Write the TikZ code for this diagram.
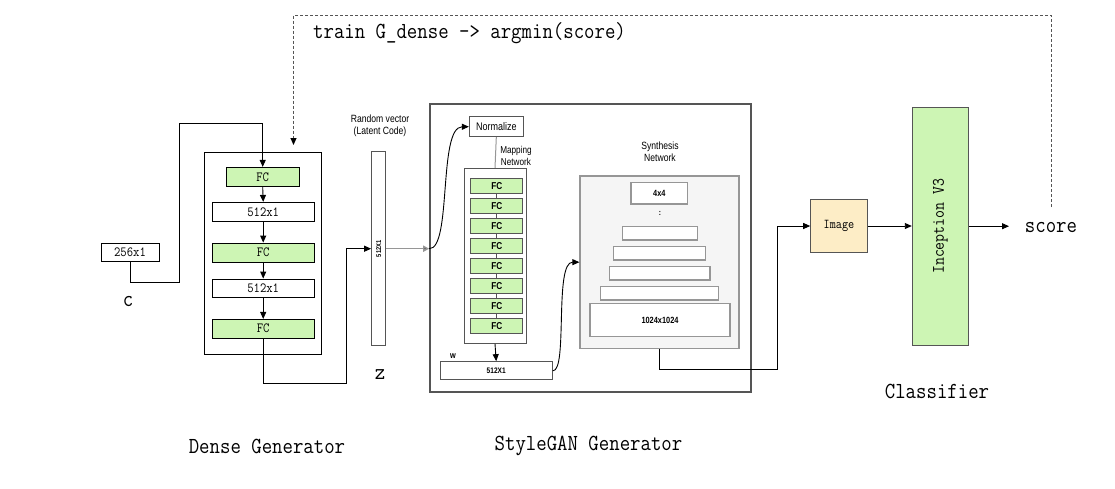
\documentclass[tikz,border=0pt]{standalone}
\usepackage{fontspec}
\newfontfamily\monof[FakeStretch=0.88]{Latin Modern Mono}
\newfontfamily\sansn[FakeStretch=0.82]{Liberation Sans}
\usetikzlibrary{arrows.meta,calc}
\definecolor{fcgreen}{RGB}{205,245,180}
\definecolor{imgfill}{RGB}{253,237,198}
\definecolor{synfill}{RGB}{245,245,245}
\definecolor{dgray}{RGB}{85,85,85}
\definecolor{mgray}{RGB}{150,150,150}
\begin{document}
\begin{tikzpicture}[x=1pt,y=-1pt,
  tip/.style={-{Triangle[length=7pt,width=6pt]}},
  conn/.style={draw=black, line width=0.9pt},
  dbox/.style={draw=black, line width=0.8pt, inner sep=0pt, font=\monof\fontsize{14}{16}\selectfont},
  dfc/.style={dbox, fill=fcgreen},
  mfc/.style={draw=dgray, line width=1pt, fill=fcgreen, inner sep=0pt, minimum width=51.7pt, minimum height=15pt, font=\sansn\bfseries\fontsize{10}{11}\selectfont},
  sbar/.style={draw=mgray, line width=1.2pt, fill=white, inner sep=0pt, font=\sansn\bfseries\fontsize{9}{10}\selectfont},
  big/.style={font=\monof\fontsize{23}{26}\selectfont, inner sep=0pt},
  small/.style={font=\sansn\fontsize{11}{12.5}\selectfont, inner sep=0pt, align=center},
]
\useasboundingbox (0,0) rectangle (1115,488);

% ---- Dense generator ----
\node[dbox, minimum width=58pt, minimum height=18pt] (c256) at (130,252) {256x1};
\node[draw=black, line width=0.8pt, minimum width=117.4pt, minimum height=201.7pt, inner sep=0pt] (dense) at (263,253.2) {};
\node[dfc, minimum width=73.3pt, minimum height=19.4pt] (fc1) at (262.7,177) {FC};
\node[dbox, minimum width=101.7pt, minimum height=19.4pt] (l1) at (263.2,212) {512x1};
\node[dfc, minimum width=101.7pt, minimum height=19pt] (fc2) at (263.2,252.5) {FC};
\node[dbox, minimum width=101.7pt, minimum height=18.7pt] (l2) at (263.2,288.3) {512x1};
\node[dfc, minimum width=101.7pt, minimum height=18.7pt] (fc3) at (263.2,328.7) {FC};

\draw[conn,tip] (c256.south) |- (179,282) |- ([yshift=43pt]fc1.north) -- (fc1.north);
\draw[conn,tip] (fc1.south) -- (l1.north);
\draw[conn,tip] (l1.south) -- (fc2.north);
\draw[conn,tip] (fc2.south) -- (l2.north);
\draw[conn,tip] (l2.south) -- (fc3.north);

% ---- latent vector ----
\node[draw=dgray, line width=1pt, minimum width=14.3pt, minimum height=194pt, inner sep=0pt] (zbar) at (378.8,248.7) {};
\node[font=\sansn\bfseries\fontsize{7}{8}\selectfont, rotate=90, inner sep=0pt] (ztxt) at (zbar.center) {512X1};
\node[small, font=\sansn\fontsize{10.5}{12.5}\selectfont] (rv) at (380,126) {Random vector\\(Latent Code)};
\draw[conn,tip] (fc3.south) |- (346,383) |- (zbar.west);

% ---- StyleGAN ----
\node[draw=dgray, line width=1.6pt, minimum width=321pt, minimum height=288pt, inner sep=0pt] (sg) at (590.5,248) {};
\node[draw=dgray, line width=0.9pt, fill=white, minimum width=54pt, minimum height=20pt, inner sep=0pt, small] (norm) at (496.3,126.7) {Normalize};
\node[draw=dgray, line width=1pt, minimum width=62pt, minimum height=175pt, inner sep=0pt] (map) at (495,255.8) {};
\node[small, font=\sansn\fontsize{10}{11.5}\selectfont] (maptxt) at (516,156) {Mapping\\Network};
\foreach \i in {0,...,7} {
  \node[mfc] (m\i) at (496.8,185.8+20*\i) {FC};
}
\foreach \i/\j in {0/1,1/2,2/3,3/4,4/5,5/6,6/7} {
  \draw[draw=dgray, line width=0.9pt] (m\i.south) -- (m\j.north);
}
\draw[draw=mgray, line width=1pt] (norm.south) -- (map.north);
\node[draw=dgray, line width=1pt, fill=white, minimum width=112.3pt, minimum height=18.3pt, inner sep=0pt, font=\sansn\bfseries\fontsize{8}{9}\selectfont] (wbox) at (496.2,370.8) {512X1};
\node[font=\sansn\bfseries\fontsize{9}{10}\selectfont, inner sep=0pt] (wlab) at (453,356.5) {w};
\draw[conn,tip] (map.south) -- (wbox.north);

\coordinate (zin) at (zbar.east -| sg.west);
\draw[draw=mgray, line width=1.5pt, -{Triangle[length=6pt,width=6pt,fill=black]}] (zbar.east) -- (zin);
\draw[conn,tip] (zin) .. controls (452,249) and (438,127) .. (norm.west);

% synthesis
\node[draw=mgray, line width=1.2pt, fill=synfill, minimum width=159pt, minimum height=172.3pt, inner sep=0pt] (syn) at (659.5,262.2) {};
\node[small, font=\sansn\fontsize{10.5}{12}\selectfont] (syntxt) at (660,151.5) {Synthesis\\Network};
\node[sbar, minimum width=56.7pt, minimum height=21.7pt] (s4) at (659.3,193.2) {4x4};
\node[font=\sansn\bfseries\fontsize{8}{8}\selectfont, inner sep=0pt] (dots) at (660,213) {:};
\node[sbar, minimum width=75pt, minimum height=13.3pt] (b1) at (659.8,233.3) {};
\node[sbar, minimum width=92.4pt, minimum height=13.3pt] (b2) at (659.5,253.3) {};
\node[sbar, minimum width=100.7pt, minimum height=13.3pt] (b3) at (659.7,273.3) {};
\node[sbar, minimum width=117.6pt, minimum height=13.3pt] (b4) at (659.5,293.3) {};
\node[sbar, minimum width=140pt, minimum height=33.4pt] (b5) at (660,320) {1024x1024};
\draw[conn,tip] (wbox.east) .. controls (568,371) and (554,262) .. (syn.west);

% ---- Classifier ----
\node[draw=dgray, line width=1pt, fill=imgfill, minimum width=56.6pt, minimum height=53.4pt, inner sep=0pt, font=\monof\fontsize{13.5}{15}\selectfont] (img) at (839,226) {Image};
\node[draw=dgray, line width=1pt, fill=fcgreen, minimum width=56pt, minimum height=237.7pt, inner sep=0pt] (inc) at (940.3,226.2) {};
\node[font=\monof\fontsize{17.5}{20}\selectfont, rotate=90, inner sep=0pt] (inctxt) at (inc.center) {Inception V3};
\draw[conn,tip] (syn.south) |- (777,369) |- (img.west);
\draw[conn,tip] (img.east) -- (img.east -| inc.west);
\coordinate (sc) at (1009,226.2);
\draw[conn,tip] (inc.east |- sc) -- (sc);
\node[big] (score) at (1051,228) {score};

% ---- feedback ----
\coordinate (fb) at (1051,207);
\coordinate (tr) at (1051,15);
\coordinate (tl) at (293.5,15);
\coordinate (tend) at (293.5,145);
\draw[draw=dgray, line width=0.9pt, dash pattern=on 3pt off 2pt] (fb) -- (tr) -- (tl) -- ([yshift=6pt]tend);
\draw[draw=black, line width=0.9pt, tip] ([yshift=7pt]tend) -- (tend);
\node[big, anchor=west] (train) at (313,33) {train G\_dense -> argmin(score)};

% ---- labels ----
\node[big] (clab) at (128,302) {c};
\node[big] (zlab) at (380,375) {z};
\node[big] (clf) at (937,391) {Classifier};
\node[big] (dgen) at (267,446) {Dense Generator};
\node[big] (sgen) at (588.5,446) {StyleGAN Generator};
\end{tikzpicture}
\end{document}
